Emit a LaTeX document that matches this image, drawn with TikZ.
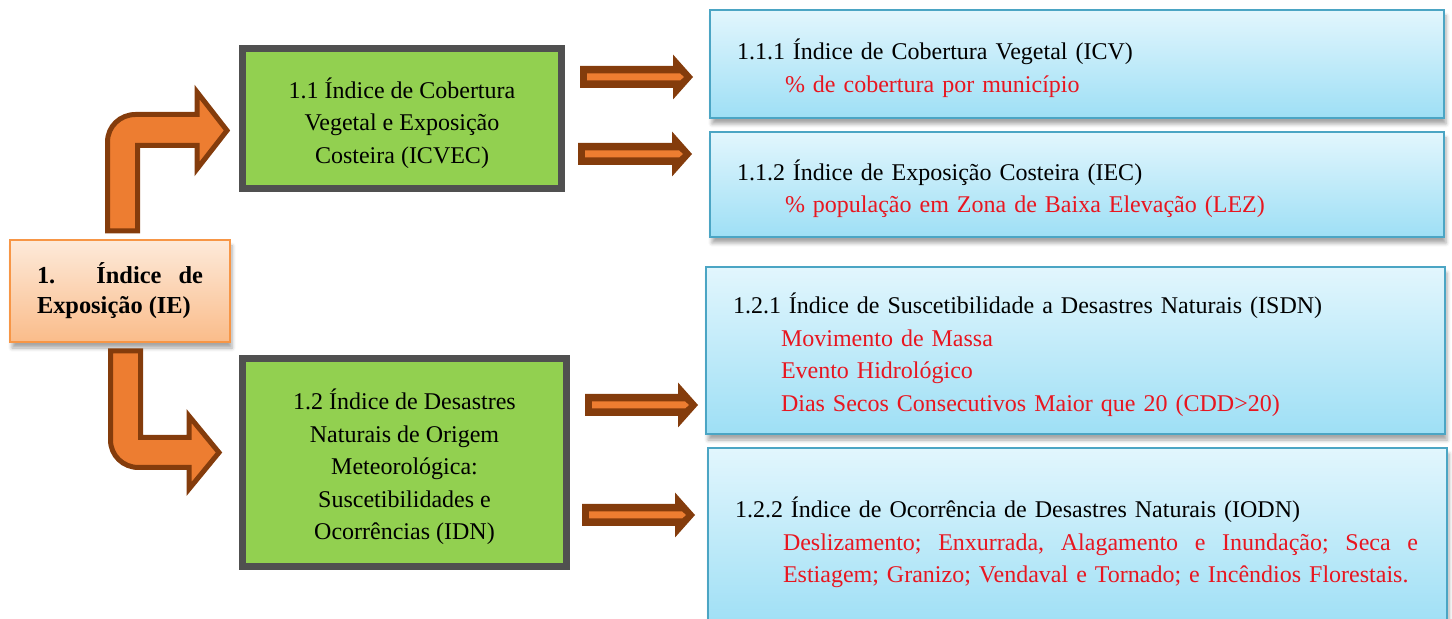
\documentclass[tikz,border=0pt]{standalone}
\usepackage{fontspec}
\setmainfont{Liberation Serif}
\usetikzlibrary{calc,shadows.blur}

\definecolor{arrowfill}{RGB}{237,125,49}
\definecolor{arrowline}{RGB}{132,60,12}
\definecolor{leafgreen}{RGB}{146,208,80}
\definecolor{framegray}{RGB}{80,80,80}
\definecolor{skytop}{RGB}{226,246,253}
\definecolor{skybottom}{RGB}{158,223,245}
\definecolor{skyline}{RGB}{75,165,196}
\definecolor{peachtop}{RGB}{253,234,218}
\definecolor{peachbottom}{RGB}{250,188,138}
\definecolor{peachline}{RGB}{247,150,70}
\definecolor{itemred}{RGB}{232,22,32}

\tikzset{
  bodytext/.style={font=\fontsize{12pt}{16.25pt}\selectfont},
  rootbox/.style={draw=peachline, line width=1pt, top color=peachtop,
    bottom color=peachbottom, inner sep=0pt, align=left,
    blur shadow={shadow xshift=1pt, shadow yshift=-3pt, shadow opacity=35},
    font=\fontsize{12.2pt}{15pt}\selectfont\bfseries},
  groupbox/.style={draw=framegray, line width=3.5pt, fill=leafgreen,
    inner sep=0pt, align=center, bodytext},
  leafbox/.style={draw=skyline, line width=1.4pt, top color=skytop,
    bottom color=skybottom, inner ysep=0pt, inner xsep=13.5pt, align=left,
    blur shadow={shadow xshift=1pt, shadow yshift=-3pt, shadow opacity=35},
    bodytext},
  bentarrow/.style={fill=arrowfill, draw=arrowline, line width=2.5pt,
    line join=miter},
}

% straight block arrow: dark body with a light stripe along the shaft
\newcommand\flatarrow[2]{%
  \fill[arrowline] ($(#1)+(0,-11)$) -- ($(#2)+(-20,-11)$) -- ($(#2)+(-20,-22.5)$)
    -- (#2) -- ($(#2)+(-20,22.5)$) -- ($(#2)+(-20,11)$) -- ($(#1)+(0,11)$) -- cycle;
  \fill[arrowfill] ($(#1)+(7,-3.5)$) -- ($(#2)+(-13,-3.5)$) -- ($(#2)+(-9,0)$)
    -- ($(#2)+(-13,3.5)$) -- ($(#1)+(7,3.5)$) -- cycle;
}

\newcommand\itemline[1]{\hspace*{24pt}\textcolor{itemred}{#1}}
% extra room above the first line, so the text block sits a little lower
\newcommand\headroom{\rule{0pt}{14.6pt}}

\begin{document}
\begin{tikzpicture}[x=0.5pt, y=-0.5pt]
\useasboundingbox (0,0) rectangle (1452,619);
\clip (0,0) rectangle (1452,619);

% root
\node[rootbox, minimum width=110pt, minimum height=51pt] (ie) at (120,291)
  {\makebox[83pt][s]{1. Índice de}\\Exposição (IE)};

% second level
\node[groupbox, minimum width=159.5pt, minimum height=70pt] (g1) at (402,118.5)
  {\headroom 1.1 Índice de Cobertura\\Vegetal e Exposição\\Costeira (ICVEC)};
\node[groupbox, minimum width=162pt, minimum height=104pt] (g2) at (404.5,462.5)
  {\headroom 1.2 Índice de Desastres\\Naturais de Origem\\Meteorológica:\\Suscetibilidades e\\Ocorrências (IDN)};

% third level
\node[leafbox, text width=340pt, minimum height=54pt] (l1) at (1077,64)
  {\headroom 1.1.1 Índice de Cobertura Vegetal (ICV)\\
   \itemline{\% de cobertura por município}};
\node[leafbox, text width=340pt, minimum height=52.5pt] (l2) at (1077,184.5)
  {\headroom 1.1.2 Índice de Exposição Costeira (IEC)\\
   \itemline{\% população em Zona de Baixa Elevação (LEZ)}};
\node[leafbox, text width=342.5pt, minimum height=83.5pt] (l3) at (1075.5,350.5)
  {\headroom 1.2.1 Índice de Suscetibilidade a Desastres Naturais (ISDN)\\
   \itemline{Movimento de Massa}\\
   \itemline{Evento Hidrológico}\\
   \itemline{Dias Secos Consecutivos Maior que 20 (CDD>20)}};
\node[leafbox, text width=342.5pt, minimum height=90pt] (l4) at (1077.5,538)
  {\headroom 1.2.2 Índice de Ocorrência de Desastres Naturais (IODN)\\
   \itemline{\hbox to 317.5pt{Deslizamento;\hfill Enxurrada,\hfill Alagamento\hfill e\hfill
     Inundação;\hfill Seca\hfill e}}\\
   \itemline{Estiagem; Granizo; Vendaval e Tornado; e Incêndios Florestais.}};

% bent arrows from the root to the second level
\draw[bentarrow] (107.5,231) -- (107.5,142) .. controls (107.5,126.5) and (120,114.5) .. (135.5,114.5)
  -- (197,114.5) -- (197,92) -- (227,130.5) -- (197,169) -- (197,145.5)
  -- (137.5,145.5) -- (137.5,231) -- cycle;
\draw[bentarrow] (110.5,351) -- (110.5,440) .. controls (110.5,455.5) and (123,467.5) .. (138.5,467.5)
  -- (189,467.5) -- (189,489) -- (219,452.5) -- (189,416) -- (189,437.5)
  -- (140.5,437.5) -- (140.5,351) -- cycle;

% block arrows from the second to the third level
\coordinate (a1s) at (580,77);   \coordinate (a1e) at (693,77);
\coordinate (a2s) at (578,154);  \coordinate (a2e) at (692,154);
\coordinate (a3s) at (585,405);  \coordinate (a3e) at (698,405);
\coordinate (a4s) at (582,515);  \coordinate (a4e) at (695,515);
\flatarrow{a1s}{a1e}
\flatarrow{a2s}{a2e}
\flatarrow{a3s}{a3e}
\flatarrow{a4s}{a4e}
\end{tikzpicture}
\end{document}
